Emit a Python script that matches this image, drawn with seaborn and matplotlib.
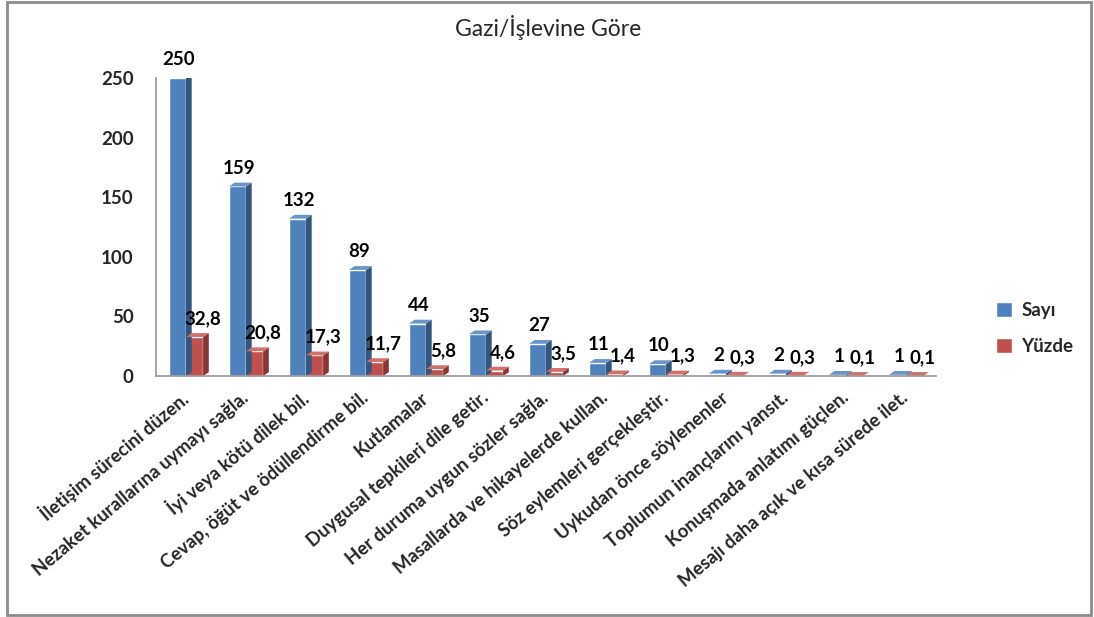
import numpy as np
import pandas as pd
import matplotlib.pyplot as plt
from matplotlib.patches import Polygon, Rectangle
import seaborn as sns

# data
categories = ['İletişim sürecini düzen.', 'Nezaket kurallarına uymayı sağla.',
              'İyi veya kötü dilek bil.', 'Cevap, öğüt ve ödüllendirme bil.',
              'Kutlamalar', 'Duygusal tepkileri dile getir.',
              'Her duruma uygun sözler sağla.', 'Masallarda ve hikayelerde kullan.',
              'Söz eylemleri gerçekleştir.', 'Uykudan önce söylenenler',
              'Toplumun inançlarını yansıt.', 'Konuşmada anlatımı güçlen.',
              'Mesajı daha açık ve kısa sürede ilet.']
sayi = [250, 159, 132, 89, 44, 35, 27, 11, 10, 2, 2, 1, 1]
yuzde = [32.8, 20.8, 17.3, 11.7, 5.8, 4.6, 3.5, 1.4, 1.3, 0.3, 0.3, 0.1, 0.1]
series = ['Sayı', 'Yüzde']
colors = ['#4F81BD', '#C0504D']
side_colors = ['#34557C', '#873634']
top_colors = ['#6A95CB', '#D2706D']

df = pd.DataFrame({'kategori': categories * 2,
                   'seri': [series[0]] * len(sayi) + [series[1]] * len(yuzde),
                   'deger': sayi + yuzde})

sns.set_theme(style='white')
plt.rcParams['font.family'] = ['Lato', 'DejaVu Sans']

fig = plt.figure(figsize=(10.94, 6.17), dpi=100)
ax = fig.add_axes([0.1426, 0.3906, 0.713, 0.483])

sns.barplot(data=df, x='kategori', y='deger', hue='seri', hue_order=series,
            palette=colors, width=0.57, saturation=1, ax=ax, legend=True)

ax.set_xlim(-0.5, len(categories) - 0.5)
ax.set_ylim(0, 250)

# fake 3d depth on every bar
dx, dy = 0.095, 3.2
for i, cont in enumerate(ax.containers):
    for p in cont:
        x, w, h = p.get_x(), p.get_width(), p.get_height()
        ax.add_patch(Polygon([(x + w, 0), (x + w + dx, dy), (x + w + dx, h + dy), (x + w, h)],
                             closed=True, facecolor=side_colors[i], edgecolor='none',
                             zorder=p.get_zorder()))
        ax.add_patch(Polygon([(x, h), (x + dx, h + dy), (x + w + dx, h + dy), (x + w, h)],
                             closed=True, facecolor=top_colors[i], edgecolor='none',
                             zorder=p.get_zorder()))

# value labels
vals = [sayi, yuzde]
for i, cont in enumerate(ax.containers):
    for p, v in zip(cont, vals[i]):
        txt = str(v) if i == 0 else f'{v:.1f}'.replace('.', ',')
        ax.annotate(txt, xy=(p.get_x() + p.get_width() / 2, p.get_height()),
                    xytext=(1 if i == 0 else 6, 7), textcoords='offset points',
                    ha='center', va='bottom', fontsize=13.5, fontweight='bold',
                    color='black', annotation_clip=False)

# axes styling
for s in ['top', 'right']:
    ax.spines[s].set_visible(False)
ax.spines['left'].set_color('#9a9a9a')
ax.spines['bottom'].set_color('#9a9a9a')
ax.set_xlabel('')
ax.set_ylabel('')
ax.set_yticks([0, 50, 100, 150, 200, 250])
ax.tick_params(axis='y', length=0, pad=16, labelsize=13.5)
ax.tick_params(axis='x', length=0, pad=14)
for t in ax.get_yticklabels():
    t.set_fontweight('bold')
ax.set_xticks(range(len(categories)))
ax.set_xticklabels(categories, rotation=40, ha='right', va='center',
                   rotation_mode='anchor', fontsize=13.3, fontweight='bold')

# legend
handles, labels = ax.get_legend_handles_labels()
ax.get_legend().remove()
fig.legend(handles, labels, loc='center left', bbox_to_anchor=(0.895, 0.468),
           frameon=False, handlelength=0.85, handleheight=0.85, handletextpad=0.5,
           labelspacing=1.0, prop={'weight': 'bold', 'size': 13.5})

fig.text(0.501, 0.955, 'Gazi/İşlevine Göre', ha='center', va='center', fontsize=16.5)

# chart border
fig.patches.append(Rectangle((0.0065, 0.004), 0.991, 0.993, transform=fig.transFigure,
                             fill=False, edgecolor='#8c8c8c', linewidth=2))

fig.savefig('out.png', dpi=100)
